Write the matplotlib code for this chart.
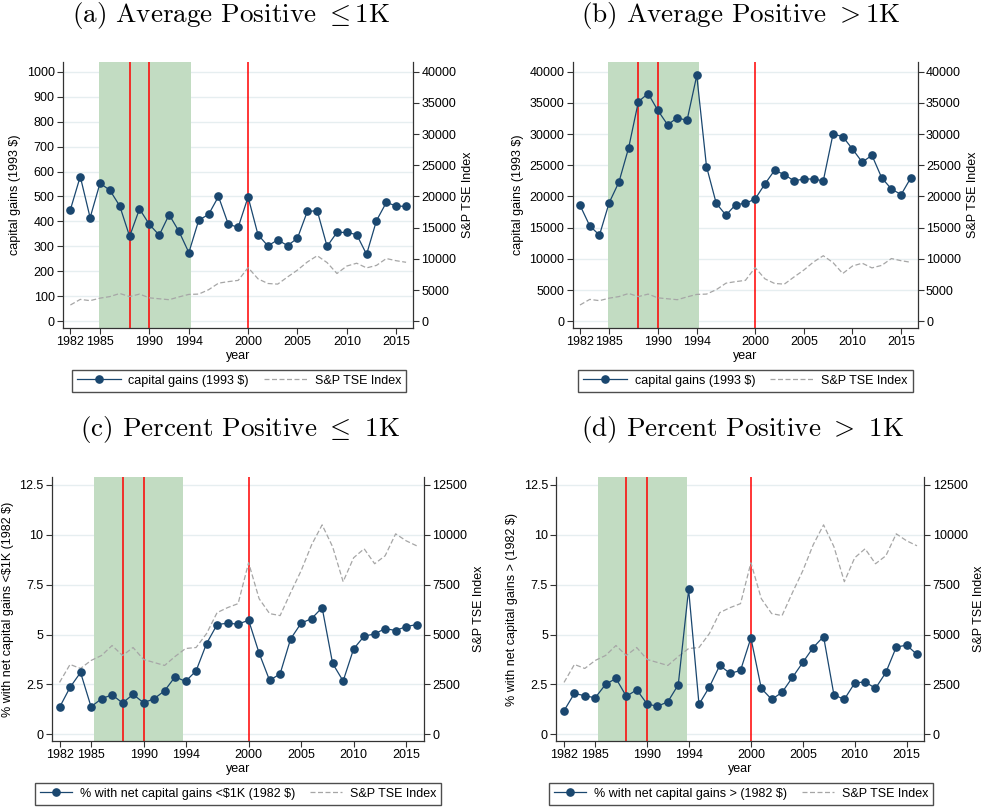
import numpy as np
import matplotlib.pyplot as plt
from matplotlib.ticker import FuncFormatter

plt.rcParams['font.family'] = ['Liberation Sans', 'DejaVu Sans']
plt.rcParams['mathtext.fontset'] = 'cm'

years = list(range(1982, 2017))

tse_index = [2600, 3500, 3300, 3700, 3950, 4450, 3950, 4350, 3750, 3600,
             3450, 3900, 4300, 4350, 5050, 6100, 6350, 6550, 8600, 6800,
             6050, 5950, 7100, 8200, 9500, 10500, 9400, 7650, 8850, 9300,
             8550, 8950, 10050, 9700, 9450]

avg_le1k = [447, 580, 415, 553, 525, 462, 340, 450, 388, 345,
            427, 360, 275, 405, 428, 500, 388, 377, 498, 347,
            302, 326, 303, 333, 440, 443, 300, 356, 356, 347,
            268, 403, 476, 462, 460]

avg_gt1k = [18600, 15300, 13800, 19000, 22300, 27800, 35200, 36500, 33800, 31500,
            32600, 32200, 39400, 24800, 18900, 17000, 18700, 18900, 19600, 22000,
            24200, 23500, 22500, 22800, 22800, 22500, 30000, 29600, 27600, 25500,
            26600, 23000, 21200, 20300, 23000]

pct_le1k = [1.35, 2.35, 3.1, 1.38, 1.78, 1.98, 1.57, 2.0, 1.58, 1.78,
            2.18, 2.88, 2.65, 3.18, 4.55, 5.5, 5.57, 5.52, 5.72, 4.07,
            2.7, 3.03, 4.78, 5.57, 5.8, 6.35, 3.55, 2.67, 4.28, 4.92,
            5.03, 5.3, 5.2, 5.4, 5.5]

pct_gt1k = [1.18, 2.05, 1.93, 1.83, 2.5, 2.8, 1.9, 2.23, 1.52, 1.4,
            1.63, 2.48, 7.27, 1.5, 2.37, 3.45, 3.05, 3.2, 4.83, 2.3,
            1.75, 2.1, 2.85, 3.6, 4.35, 4.9, 1.97, 1.75, 2.57, 2.63,
            2.3, 3.1, 4.37, 4.47, 4.0]

red_years = [1988, 1990, 2000]
xticks = [1982, 1985, 1990, 1994, 2000, 2005, 2010, 2015]

NAVY = '#1a476f'
GREEN = '#c2dcc2'
GRID = '#e6eef0'
AX_COL = '#333333'

fig = plt.figure(figsize=(9.84, 8.09), dpi=100)


def panel(rect, leg_center, series, ylabel, left_ticks, right_ticks,
          ylim, shade, handlelen):
    ax = fig.add_axes(rect)
    ax.set_xlim(1981.25, 2016.7)
    ax.set_ylim(*ylim)
    ax.axvspan(shade[0], shade[1], color=GREEN, lw=0, zorder=1)
    for yr in red_years:
        ax.axvline(yr, color='#ff0000', lw=1.1, zorder=2)
    ax.set_yticks(left_ticks)
    ax.yaxis.set_major_formatter(FuncFormatter(lambda v, p: f'{v:g}'))
    ax.grid(axis='y', color=GRID, lw=1.0, zorder=0)
    ax.set_axisbelow(True)
    ax.set_xticks(xticks)
    ax.set_ylabel(ylabel, fontsize=9)
    ax.set_xlabel('year', fontsize=9, labelpad=1)
    ax.spines['top'].set_visible(False)
    ax.spines['right'].set_visible(False)

    # right axis: index, aligned so both zeros coincide
    ratio = right_ticks[-1] / left_ticks[-1]
    ax2 = ax.twinx()
    ax2.set_ylim(ylim[0] * ratio, ylim[1] * ratio)
    idx_line, = ax2.plot(years, tse_index, color='#a6a6a6', lw=0.9,
                         dashes=(4, 2))
    ax2.set_yticks(right_ticks)
    ax2.yaxis.set_major_formatter(FuncFormatter(lambda v, p: f'{v:g}'))
    ax2.set_ylabel('S&P TSE Index', fontsize=9)
    for s in ['top', 'left', 'bottom']:
        ax2.spines[s].set_visible(False)

    # top layer with main series
    ax3 = fig.add_axes(rect, sharex=ax, sharey=ax)
    ax3.axis('off')
    main_line, = ax3.plot(years, series, color=NAVY, lw=0.9, marker='o',
                          ms=5.2, mfc=NAVY, mec=NAVY)

    for a in (ax, ax2):
        a.tick_params(direction='out', length=4, width=0.8, color=AX_COL,
                      labelsize=9, pad=2)
        for s in a.spines.values():
            s.set_color(AX_COL)
            s.set_linewidth(0.9)

    fig.legend([main_line, idx_line], [ylabel, 'S&P TSE Index'],
               bbox_to_anchor=leg_center, loc='center', ncol=2,
               fontsize=9, frameon=True, fancybox=False, edgecolor='#222222',
               handlelength=handlelen, borderpad=0.4, handletextpad=0.6,
               columnspacing=1.2)
    return ax


panel([0.064, 0.5946, 0.3557, 0.3288], (0.2429, 0.5296),
      avg_le1k, 'capital gains (1993 \\$)',
      list(range(0, 1001, 100)), list(range(0, 40001, 5000)),
      (-27, 1039), (1984.85, 1994.25), 3.5)

panel([0.582, 0.5946, 0.3506, 0.3288], (0.7577, 0.5296),
      avg_gt1k, 'capital gains (1993 \\$)',
      list(range(0, 40001, 5000)), list(range(0, 40001, 5000)),
      (-1080, 41560), (1984.85, 1994.25), 3.5)

panel([0.0525, 0.084, 0.3784, 0.3264], (0.2418, 0.0191),
      pct_le1k, '% with net capital gains <\\$1K (1982 \\$)',
      [0, 2.5, 5, 7.5, 10, 12.5], list(range(0, 12501, 2500)),
      (-0.34, 12.9), (1985.25, 1993.8), 2.6)

panel([0.5653, 0.084, 0.374, 0.3264], (0.7529, 0.0191),
      pct_gt1k, '% with net capital gains > (1982 \\$)',
      [0, 2.5, 5, 7.5, 10, 12.5], list(range(0, 12501, 2500)),
      (-0.34, 12.9), (1985.25, 1993.8), 2.6)

title_kw = dict(fontsize=19.5, family='cmr10', ha='center', va='center')
fig.text(0.235, 0.981, '(a) Average Positive ${\\leq}$1K', **title_kw)
fig.text(0.753, 0.981, '(b) Average Positive ${>}$1K', **title_kw)
fig.text(0.244, 0.4685, '(c) Percent Positive ${\\leq}$ 1K', **title_kw)
fig.text(0.755, 0.4685, '(d) Percent Positive ${>}$ 1K', **title_kw)

fig.savefig('out.png', dpi=100, facecolor='white')
